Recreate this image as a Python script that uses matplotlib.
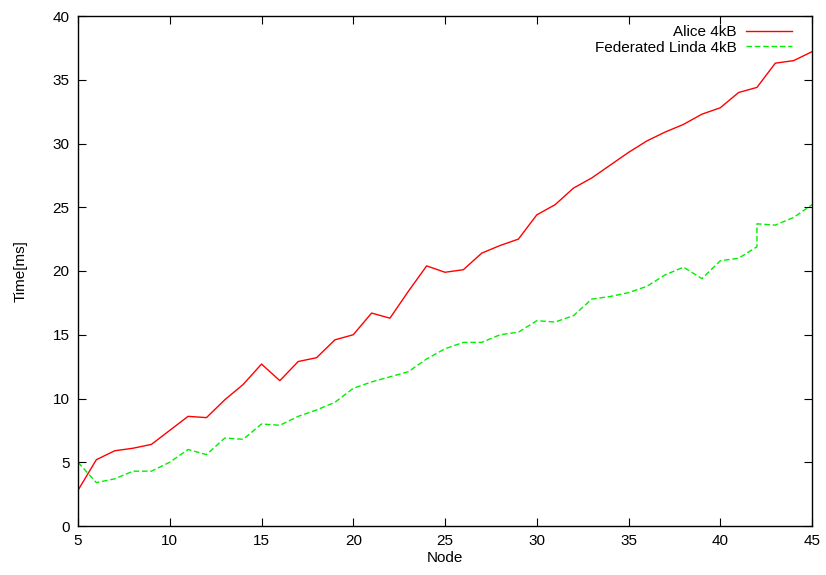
import matplotlib
matplotlib.use('Agg')
import matplotlib.pyplot as plt

plt.rcParams['font.family'] = ['Liberation Sans', 'DejaVu Sans']

# node counts (42 appears twice for the Linda series: step in the data)
nodes = list(range(5, 46))
alice = [2.8, 5.2, 5.9, 6.1, 6.4, 7.5, 8.6, 8.5, 9.9, 11.1,
         12.7, 11.4, 12.9, 13.2, 14.6, 15.0, 16.7, 16.3, 18.4, 20.4,
         19.9, 20.1, 21.4, 22.0, 22.5, 24.4, 25.2, 26.5, 27.3, 28.3,
         29.3, 30.2, 30.9, 31.5, 32.3, 32.8, 34.0, 34.4, 36.3, 36.5,
         37.2]

linda_nodes = list(range(5, 43)) + [42, 43, 44, 45]
linda = [5.0, 3.4, 3.7, 4.3, 4.3, 5.0, 6.0, 5.6, 6.9, 6.8,
         8.0, 7.9, 8.6, 9.1, 9.7, 10.8, 11.3, 11.7, 12.1, 13.1,
         13.9, 14.4, 14.4, 15.0, 15.2, 16.1, 16.0, 16.5, 17.8, 18.0,
         18.3, 18.8, 19.7, 20.3, 19.4, 20.8, 21.0, 21.9, 23.7, 23.6,
         24.2, 25.2]

fig = plt.figure(figsize=(8.26, 5.75), dpi=100)
ax = fig.add_axes([78 / 826, 1 - 526 / 575, 734 / 826, 510 / 575])

ax.plot(nodes, alice, color='#ff0000', lw=1.0, label='Alice 4kB')
ax.plot(linda_nodes, linda, color='#00ee00', lw=1.0, dashes=(4, 2),
        label='Federated Linda 4kB')

ax.set_xlim(5, 45)
ax.set_ylim(0, 40)
ax.set_xticks(range(5, 46, 5))
ax.set_yticks(range(0, 41, 5))
ax.tick_params(direction='in', top=True, right=True, length=6,
               labelsize=11, pad=6)
for s in ax.spines.values():
    s.set_linewidth(1.0)

ax.set_xlabel('Node', fontsize=11, labelpad=2)
ax.set_ylabel('Time[ms]', fontsize=11, labelpad=18)

ax.legend(loc='upper right', frameon=False, markerfirst=False,
          fontsize=11, handlelength=3.0, handletextpad=0.6,
          labelspacing=0.1, borderaxespad=0.2,
          bbox_to_anchor=(0.985, 1.0))

fig.savefig('out.png', dpi=100)
